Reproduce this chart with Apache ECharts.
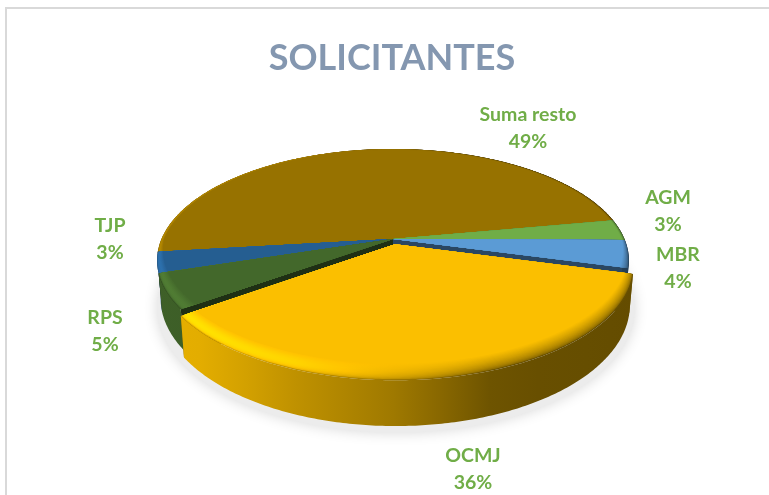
<!DOCTYPE html>
<html>
<head>
<meta charset="utf-8">
<title>SOLICITANTES</title>
<style>
html, body { margin: 0; padding: 0; background: #fff; }
#chart { width: 769px; height: 495px; }
</style>
<script src="https://cdn.jsdelivr.net/npm/echarts@6/dist/echarts.min.js"></script>
</head>
<body>
<div id="chart"></div>
<script>
// datos de la tarta, en el orden de las agujas del reloj
var categories = ['AGM', 'MBR', 'OCMJ', 'RPS', 'TJP', 'Suma resto'];
var percents = [3, 4, 36, 5, 3, 49];
var sliceColors = ['#70ad47', '#5b9bd5', '#fbbf00', '#43682b', '#255e91', '#977200'];
var exploded = [0, 0, 0.05, 0, 0, 0];
var labelSpots = [[668, 211], [678, 268], [473, 469], [105, 331], [110, 239], [528, 128]];

// de atras hacia delante
var drawOrder = [5, 0, 4, 1, 3, 2];

var chart = echarts.init(document.getElementById('chart'));

// perspectiva del disco
var cx = 393, cy = 239, radX = 231.5, radY = 107.4, persp = 0.193, depth = 36.5;
var startAngle = -10.3;
var bevelWidth = 0.1, bevelSteps = 14;

function project(x, y, z) {
    var den = 1 - persp * y;
    return [cx + radX * x / den * (1 - 0.015 * z), cy + (radY * y + depth * z) / den];
}

// inset: cuanto se mete el borde hacia dentro, mas ancho delante que detras
function arcPoints(from, to, r, inset, dx, dy, z) {
    var pts = [], n = Math.max(2, Math.ceil((to - from) * 1.5));
    for (var i = 0; i <= n; i++) {
        var a = (from + (to - from) * i / n) * Math.PI / 180;
        var rr = r - inset * (0.12 + 0.88 * Math.max(0, Math.sin(a)));
        pts.push(project(dx + rr * Math.cos(a), dy + rr * Math.sin(a), z));
    }
    return pts;
}

function parseColor(c) {
    return [parseInt(c.substr(1, 2), 16), parseInt(c.substr(3, 2), 16), parseInt(c.substr(5, 2), 16)];
}

function rgb(c) {
    return 'rgb(' + c.map(function (v) { return Math.round(Math.min(255, v)); }).join(',') + ')';
}

// luz de izquierda a derecha
var lightStops = [[0, 0.92], [0.12, 0.9], [0.3, 0.76], [0.52, 0.62], [0.72, 0.42], [1, 0.4]];
var glowStops = [[0, 1], [0.3, 1], [0.5, 0.35], [0.7, 0], [1, 0]];

function lookup(stops, t) {
    for (var i = 1; i < stops.length; i++) {
        if (t <= stops[i][0]) {
            var k = (t - stops[i - 1][0]) / (stops[i][0] - stops[i - 1][0]);
            return stops[i - 1][1] + (stops[i][1] - stops[i - 1][1]) * k;
        }
    }
    return stops[stops.length - 1][1];
}

function sideFill(base, f) {
    var x0 = cx - radX - 10, x1 = cx + radX + 10, stops = [];
    for (var t = 0; t <= 1.001; t += 0.1) {
        var l = lookup(lightStops, t);
        var m = l + (1 - l) * Math.sqrt(f);
        var glow = 1 + 0.24 * lookup(glowStops, t) * Math.sin(Math.PI * Math.sqrt(f));
        stops.push({
            offset: Math.min(t, 1),
            color: rgb(base.map(function (v) { return v * m * glow; }))
        });
    }
    return new echarts.graphic.LinearGradient(x0, 0, x1, 0, stops, true);
}

var angleStart = [];
percents.reduce(function (acc, v, i) {
    angleStart[i] = startAngle + acc * 3.6;
    return acc + v;
}, 0);

function renderSlice(params, api) {
    var i = api.value(0);
    var from = angleStart[i], to = from + percents[i] * 3.6;
    var mid = (from + to) / 2 * Math.PI / 180;
    var dx = exploded[i] * Math.cos(mid), dy = exploded[i] * Math.sin(mid);
    var base = parseColor(sliceColors[i]);
    var apex = project(dx, dy, 0), apexLow = project(dx, dy, 1);
    var rimTop = arcPoints(from, to, 1, 0, dx, dy, 0);
    var rimLow = arcPoints(from, to, 1, 0, dx, dy, 1);
    var children = [];

    // sombra bajo el disco, una sola vez
    if (params.dataIndex === 0) {
        children.push({
            type: 'polygon',
            shape: { points: arcPoints(0, 360, 1.02, 0, 0.012, 0.04, 1.1) },
            style: { fill: '#ececec', shadowColor: '#d8d8d8', shadowBlur: 14 }
        });
    }

    var cutFill = rgb(base.map(function (v) { return v * 0.46; }));
    [[rimTop[0], rimLow[0]], [rimTop[rimTop.length - 1], rimLow[rimLow.length - 1]]].forEach(function (e) {
        children.push({
            type: 'polygon',
            shape: { points: [apex, e[0], e[1], apexLow] },
            style: { fill: cutFill }
        });
    });

    children.push({
        type: 'polygon',
        shape: { points: rimTop.concat(rimLow.slice().reverse()) },
        style: { fill: sideFill(base, 0) }
    });

    for (var s = 0; s < bevelSteps; s++) {
        var f = s / bevelSteps;
        children.push({
            type: 'polygon',
            shape: { points: [apex].concat(arcPoints(from, to, 1, bevelWidth * f, dx, dy, 0)) },
            style: { fill: sideFill(base, f) }
        });
    }
    children.push({
        type: 'polygon',
        shape: { points: [apex].concat(arcPoints(from, to, 1, bevelWidth, dx, dy, 0)) },
        style: { fill: sliceColors[i] }
    });

    return { type: 'group', children: children };
}

function renderLabel(params, api) {
    var i = api.value(0);
    return {
        type: 'text',
        x: labelSpots[i][0],
        y: labelSpots[i][1],
        style: {
            text: categories[i] + '\n' + percents[i] + '%',
            fill: '#70ad47',
            font: 'bold 19.5px Lato, Carlito, sans-serif',
            lineHeight: 27,
            align: 'center',
            verticalAlign: 'middle'
        }
    };
}

var option = {
    backgroundColor: '#fff',
    animation: false,
    title: {
        text: 'SOLICITANTES',
        left: 387,
        top: 35,
        textAlign: 'center',
        textStyle: {
            color: '#8497b0',
            fontFamily: 'Lato, Carlito, sans-serif',
            fontWeight: 'bold',
            fontSize: 36
        }
    },
    graphic: [
        { type: 'line', shape: { x1: 5, y1: 8, x2: 769, y2: 8 }, style: { stroke: '#d9d9d9', lineWidth: 2 } },
        { type: 'line', shape: { x1: 6, y1: 8, x2: 6, y2: 495 }, style: { stroke: '#d9d9d9', lineWidth: 2 } }
    ],
    series: [
        {
            type: 'custom',
            coordinateSystem: 'none',
            silent: true,
            renderItem: renderSlice,
            data: drawOrder.map(function (i) { return [i]; })
        },
        {
            type: 'custom',
            coordinateSystem: 'none',
            silent: true,
            renderItem: renderLabel,
            data: categories.map(function (c, i) { return [i]; })
        }
    ]
};

chart.setOption(option);
</script>
</body>
</html>
